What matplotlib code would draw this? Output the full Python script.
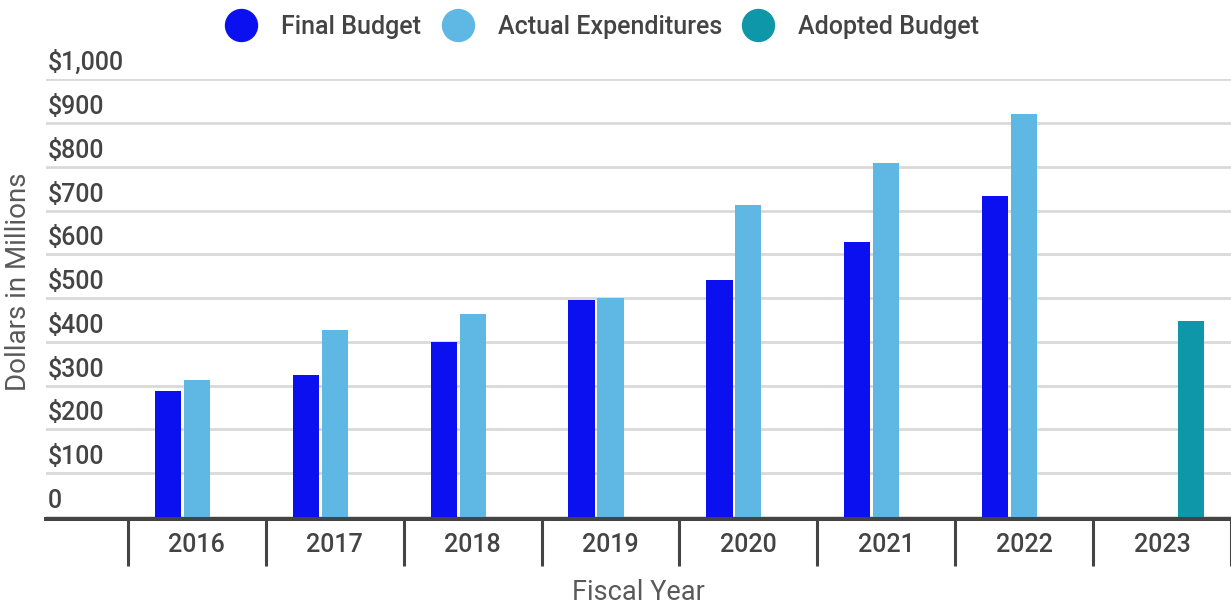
import numpy as np
import matplotlib
matplotlib.use("Agg")
from matplotlib import pyplot as plt
from matplotlib.lines import Line2D

plt.rcParams['font.family'] = ['Roboto', 'DejaVu Sans']

# fiscal years and spending, in millions of dollars
years = ['2016', '2017', '2018', '2019', '2020', '2021', '2022', '2023']
final_budget = [288, 324, 400, 495, 541, 628, 733, np.nan]
actual_exp = [313, 427, 463, 500, 712, 808, 920, np.nan]
adopted_budget = [np.nan, np.nan, np.nan, np.nan, np.nan, np.nan, np.nan, 447]

series_names = ['Final Budget', 'Actual Expenditures', 'Adopted Budget']
colors = ['#0b10f0', '#5fb7e4', '#0e96a9']

y_ticks = [0, 100, 200, 300, 400, 500, 600, 700, 800, 900, 1000]
y_tick_labels = ['0', '$100', '$200', '$300', '$400', '$500', '$600', '$700', '$800', '$900', '$1,000']

dark = '#444444'
grey = '#595959'

fig = plt.figure(figsize=(12.31, 6.07), dpi=100)
ax = fig.add_axes([46/1231, 90/607, 1185/1231, 437.7/607])

x = np.arange(len(years))
w = 0.19
offs = [-0.21, 0.0, 0.21]
for vals, off, col in zip([final_budget, actual_exp, adopted_budget], offs, colors):
    vals = np.array(vals, dtype=float)
    ok = ~np.isnan(vals)
    ax.bar(x[ok] + off, vals[ok], width=w, color=col, zorder=2)

ax.set_xlim(-1.094, 7.5)
ax.set_ylim(0, 1000)

# horizontal gridlines with the labels sitting on top of them
ax.set_yticks(y_ticks)
ax.yaxis.grid(True, color='#d9d9d9', linewidth=2)
ax.set_axisbelow(True)
ax.tick_params(axis='y', left=False, labelleft=False)
for v, lab in zip(y_ticks, y_tick_labels):
    ax.annotate(lab, xy=(0, v), xycoords=('axes fraction', 'data'),
                xytext=(1.5, 6.5), textcoords='offset points',
                ha='left', va='baseline', fontsize=18, fontweight='medium',
                color=dark, annotation_clip=False)

for s in ['left', 'right', 'top']:
    ax.spines[s].set_visible(False)
ax.spines['bottom'].set_color(dark)
ax.spines['bottom'].set_linewidth(2.9)
ax.spines['bottom'].set_position(('outward', 1.4))
ax.spines['bottom'].set_zorder(3)

# category separators as major ticks, year names on minor ticks
ax.set_xticks(np.arange(len(years) + 1) - 0.5)
ax.set_xticklabels([])
ax.tick_params(axis='x', which='major', direction='out', length=34, width=2.2, color=dark)
ax.set_xticks(x, minor=True)
ax.set_xticklabels(years, minor=True, fontsize=18, fontweight='medium', color=dark)
ax.tick_params(axis='x', which='minor', length=0, pad=10)

ax.set_xlabel('Fiscal Year', fontsize=19.5, color=grey, labelpad=6)
ax.set_ylabel('Dollars in Millions', fontsize=20, color=grey)
ax.yaxis.set_label_coords(-0.012, 0.537)

handles = [Line2D([], [], marker='o', linestyle='none', markersize=23,
                  markerfacecolor=c, markeredgecolor=c) for c in colors]
fig.legend(handles, series_names, loc='center', bbox_to_anchor=(602/1231, 1 - 27/607),
           ncol=3, frameon=False, handlelength=1.3, handletextpad=0.95,
           columnspacing=0.8, labelcolor=dark, prop={'weight': 'medium', 'size': 18})

fig.savefig('out.png', dpi=100)
